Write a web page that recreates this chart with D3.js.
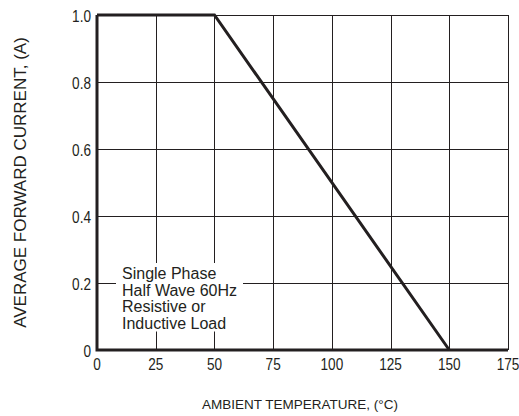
<!DOCTYPE html>
<html>
<head>
<meta charset="utf-8">
<script src="https://cdn.jsdelivr.net/npm/d3@7"></script>
<style>
  body { margin: 0; background: #fff; }
  svg { display: block; font-family: "Liberation Sans", Arial, sans-serif; }
  .grid line { stroke: #231f20; stroke-width: 1; shape-rendering: crispEdges; }
  .tick-label { font-size: 17px; fill: #231f20; }
  .axis-title { fill: #231f20; }
  .note { font-size: 16px; fill: #231f20; }
</style>
</head>
<body>
<svg id="chart" width="519" height="416"></svg>
<script>
const temps = [0, 50, 150];
const currents = [1.0, 1.0, 0];
const xTicks = [0, 25, 50, 75, 100, 125, 150, 175];
const yTicks = [0, 0.2, 0.4, 0.6, 0.8, 1.0];
const yTickLabels = ["0", "0.2", "0.4", "0.6", "0.8", "1.0"];
const noteLines = ["Single Phase", "Half Wave 60Hz", "Resistive or", "Inductive Load"];

const DIMS = { LEFT: 97, RIGHT: 508, TOP: 15, BOTTOM: 350 };

const svg = d3.select("#chart");

const x = d3.scaleLinear().domain([0, 175]).range([DIMS.LEFT, DIMS.RIGHT]);
const y = d3.scaleLinear().domain([0, 1]).range([DIMS.BOTTOM, DIMS.TOP]);

// grid
const grid = svg.append("g").attr("class", "grid");
grid
  .selectAll("line.v")
  .data(xTicks)
  .join("line")
  .attr("class", "v")
  .attr("x1", (d) => Math.round(x(d)) + 0.5)
  .attr("x2", (d) => Math.round(x(d)) + 0.5)
  .attr("y1", y(1))
  .attr("y2", y(0));
grid
  .selectAll("line.h")
  .data(yTicks)
  .join("line")
  .attr("class", "h")
  .attr("x1", x(0))
  .attr("x2", x(175))
  .attr("y1", (d) => Math.round(y(d)) + 0.5)
  .attr("y2", (d) => Math.round(y(d)) + 0.5);

// note with white box behind it
const note = svg.append("g");
const noteBg = note.append("rect").attr("fill", "#fff");
const noteText = note
  .append("text")
  .attr("class", "note")
  .attr("x", 122)
  .attr("y", 279);
noteText
  .selectAll("tspan")
  .data(noteLines)
  .join("tspan")
  .attr("x", 122)
  .attr("dy", (d, i) => (i === 0 ? 0 : 16.5))
  .text((d) => d);
const bb = noteText.node().getBBox();
noteBg
  .attr("x", bb.x - 6)
  .attr("y", bb.y - 2)
  .attr("width", bb.width + 12)
  .attr("height", bb.height + 2);

// thick left and bottom axes
svg
  .append("path")
  .attr("d", `M${x(0)},${y(1)}V${y(0)}H${x(175)}`)
  .attr("fill", "none")
  .attr("stroke", "#231f20")
  .attr("stroke-width", 3);

// derating curve
const line = d3
  .line()
  .x((d, i) => x(temps[i]))
  .y((d) => y(d));
svg
  .append("path")
  .datum(currents)
  .attr("d", line)
  .attr("fill", "none")
  .attr("stroke", "#231f20")
  .attr("stroke-width", 3)
  .attr("stroke-linejoin", "miter");

// x tick labels
svg
  .append("g")
  .selectAll("g")
  .data(xTicks)
  .join("g")
  .attr("transform", (d) => `translate(${x(d)},370) scale(0.8,1)`)
  .append("text")
  .attr("class", "tick-label")
  .attr("text-anchor", "middle")
  .text((d) => d);

// y tick labels
svg
  .append("g")
  .selectAll("g")
  .data(yTicks)
  .join("g")
  .attr("transform", (d) => `translate(${x(0) - 6},${y(d) + 7}) scale(0.8,1)`)
  .append("text")
  .attr("class", "tick-label")
  .attr("text-anchor", "end")
  .text((d, i) => yTickLabels[i]);

// axis titles
svg
  .append("text")
  .attr("class", "axis-title")
  .attr("transform", `translate(26,${(DIMS.TOP + DIMS.BOTTOM) / 2}) rotate(-90)`)
  .attr("text-anchor", "middle")
  .style("font-size", "17px")
  .text("AVERAGE FORWARD CURRENT, (A)");

svg
  .append("text")
  .attr("class", "axis-title")
  .attr("x", 300)
  .attr("y", 409)
  .attr("text-anchor", "middle")
  .style("font-size", "13.5px")
  .text("AMBIENT TEMPERATURE, (°C)");
</script>
</body>
</html>
